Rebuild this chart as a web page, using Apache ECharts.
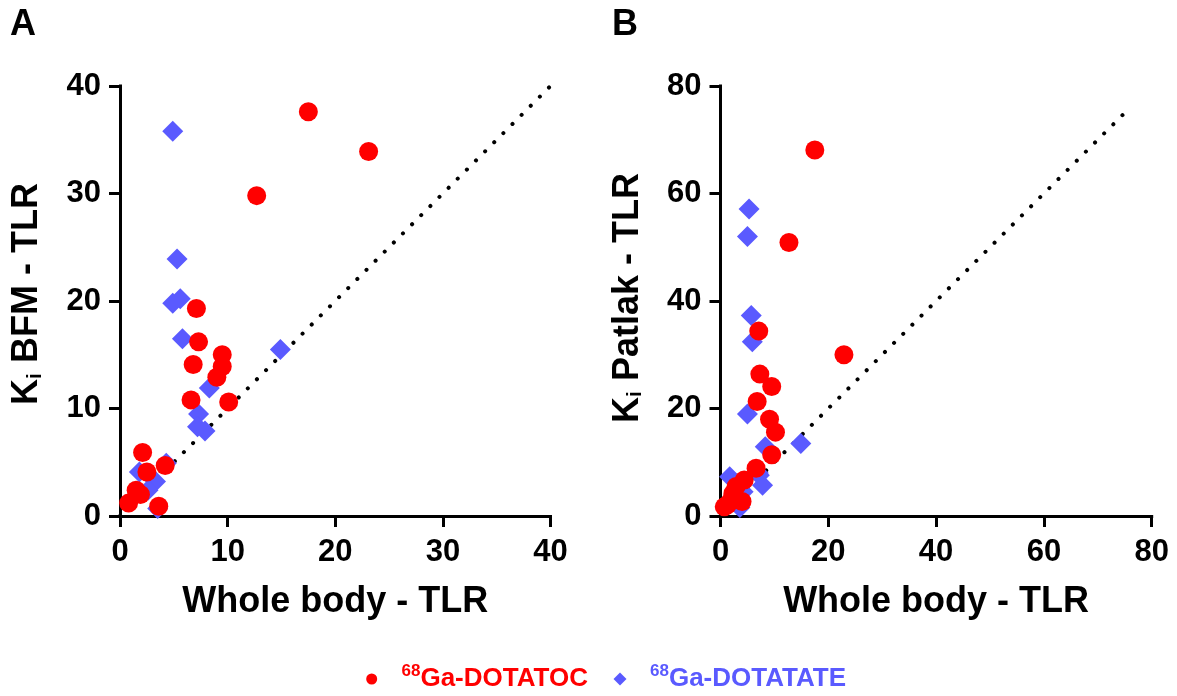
<!DOCTYPE html>
<html>
<head>
<meta charset="utf-8">
<script src="https://cdn.jsdelivr.net/npm/echarts@6/dist/echarts.min.js"></script>
<style>
  html, body { margin: 0; padding: 0; background: #ffffff; }
  #chart { width: 1177px; height: 696px; }
</style>
</head>
<body>
<div id="chart"></div>
<script>
// Tracer names (the leading "68" is set as a superscript in the legend)
const seriesNames = ['68Ga-DOTATOC', '68Ga-DOTATATE'];

// Panel A: whole body TLR (x) vs Ki BFM TLR (y)
const bfmDotatoc = [
  [17.5, 37.6], [23.1, 33.9], [12.7, 29.8], [7.1, 19.3], [7.3, 16.2],
  [9.5, 15.0], [9.5, 13.9], [6.8, 14.1], [9.0, 12.9], [6.6, 10.8],
  [10.1, 10.6], [2.1, 5.9], [4.2, 4.7], [2.5, 4.1], [1.5, 2.4],
  [1.9, 2.0], [0.8, 1.2], [3.6, 0.9]
];
const bfmDotatate = [
  [4.9, 35.8], [5.3, 23.9], [4.9, 19.8], [5.6, 20.2], [5.8, 16.5],
  [8.3, 11.9], [14.9, 15.5], [7.3, 9.5], [7.2, 8.3], [7.9, 7.9],
  [1.8, 4.1], [3.3, 3.2], [4.3, 4.9], [3.5, 0.7], [2.6, 2.4]
];

// Panel B: whole body TLR (x) vs Ki Patlak TLR (y)
const patlakDotatoc = [
  [17.5, 68.1], [22.9, 30.0], [12.7, 50.9], [7.1, 34.4], [7.3, 26.4],
  [9.5, 24.1], [6.8, 21.3], [9.1, 18.0], [10.2, 15.6], [9.5, 11.4],
  [6.6, 8.9], [4.4, 6.7], [2.9, 5.5], [2.3, 4.2], [4.0, 2.7],
  [1.3, 2.1], [0.7, 1.7], [1.9, 2.8]
];
const patlakDotatate = [
  [5.3, 57.1], [5.0, 52.0], [5.7, 37.3], [5.9, 32.4], [5.0, 19.0],
  [8.3, 12.9], [14.9, 13.5], [7.8, 5.7], [7.0, 8.0], [1.7, 7.3],
  [3.6, 1.6], [4.2, 4.5], [2.5, 2.8], [3.3, 4.6], [7.2, 7.6]
];

// Line of identity drawn in each panel
const identityA = [[0, 0], [40, 40]];
const identityB = [[0, 0], [75, 75]];

// Axis ranges and tick steps
const axisA = { max: 40, step: 10 };
const axisB = { max: 80, step: 20 };

const FONT = '"Liberation Sans", Arial, Helvetica, sans-serif';
const RED = '#FF0000';
const BLUE = '#5A5AFF';

function valueAxis(gridIndex, range, isX, name) {
  const ax = {
    type: 'value',
    gridIndex: gridIndex,
    min: 0,
    max: range.max,
    interval: range.step,
    axisLine: { show: true, onZero: false, lineStyle: { color: '#000', width: 3, cap: 'square' } },
    axisTick: { show: true, length: 11, lineStyle: { color: '#000', width: 3 } },
    splitLine: { show: false },
    axisLabel: {
      color: '#000', fontFamily: FONT, fontWeight: 'bold', fontSize: 31,
      margin: isX ? 21 : 19
    }
  };
  if (name) {
    ax.name = name;
    ax.nameLocation = 'middle';
    ax.nameGap = 68;
    ax.nameTextStyle = { color: '#000', fontFamily: FONT, fontWeight: 'bold', fontSize: 36 };
  }
  return ax;
}

function identitySeries(idx, data) {
  return {
    type: 'line', xAxisIndex: idx, yAxisIndex: idx, data: data,
    symbol: 'none', silent: true, z: 1,
    lineStyle: { color: '#000', width: 4, type: [0.1, 12.8], cap: 'round' }
  };
}

function scatterSeries(idx, nameIdx, data) {
  const isToc = nameIdx === 0;
  return {
    type: 'scatter', name: seriesNames[nameIdx],
    xAxisIndex: idx, yAxisIndex: idx, data: data,
    symbol: isToc ? 'circle' : 'diamond',
    symbolSize: isToc ? 19 : 21,
    itemStyle: { color: isToc ? RED : BLUE, opacity: 1 },
    emphasis: { disabled: true },
    z: isToc ? 3 : 2
  };
}

function yTitle(x, y, rest) {
  return {
    type: 'text', x: x, y: y, rotation: Math.PI / 2, silent: true,
    style: {
      text: '{a|K}{b|i}{a|' + rest + '}',
      align: 'center', verticalAlign: 'middle',
      fill: '#000',
      rich: {
        a: { fontFamily: FONT, fontWeight: 'bold', fontSize: 36, lineHeight: 36, fill: '#000' },
        b: { fontFamily: FONT, fontWeight: 'bold', fontSize: 21, lineHeight: 21, verticalAlign: 'bottom', fill: '#000' }
      }
    }
  };
}

function panelLetter(x, letter) {
  return {
    type: 'text', x: x, y: 25.5, silent: true,
    style: {
      text: letter, fill: '#000', fontFamily: FONT, fontWeight: 'bold', fontSize: 36,
      align: 'left', verticalAlign: 'middle'
    }
  };
}

// textLeft: where the legend label starts, measured from the page's left edge
function legendFor(nameIdx, left, icon, color, size, textLeft) {
  return {
    data: [{ name: seriesNames[nameIdx], icon: icon }],
    left: left, top: 663, padding: 0, itemGap: 0,
    itemWidth: size, itemHeight: size,
    selectedMode: false,
    formatter: function (n) { return '{s|' + n.slice(0, 2) + '}{m|' + n.slice(2) + '}'; },
    textStyle: {
      color: color, padding: [0, 0, 0, textLeft - left - size - 5],
      rich: {
        s: { fontFamily: FONT, fontWeight: 'bold', fontSize: 17, lineHeight: 15, verticalAlign: 'top', color: color },
        m: { fontFamily: FONT, fontWeight: 'bold', fontSize: 26, lineHeight: 32, color: color }
      }
    }
  };
}

const chart = echarts.init(document.getElementById('chart'), null, { renderer: 'canvas' });
chart.setOption({
  animation: false,
  backgroundColor: '#ffffff',
  grid: [
    { left: 120, top: 86, width: 430.5, height: 430 },
    { left: 720.5, top: 86, width: 431.2, height: 430 }
  ],
  xAxis: [
    valueAxis(0, axisA, true, 'Whole body - TLR'),
    valueAxis(1, axisB, true, 'Whole body - TLR')
  ],
  yAxis: [
    valueAxis(0, axisA, false),
    valueAxis(1, axisB, false)
  ],
  legend: [
    legendFor(0, 366.2, 'circle', RED, 11, 401.5),
    legendFor(1, 613.5, 'diamond', BLUE, 13, 650)
  ],
  graphic: [
    panelLetter(10, 'A'),
    panelLetter(612, 'B'),
    yTitle(27.5, 294, ' BFM - TLR'),
    yTitle(628, 298, ' Patlak - TLR')
  ],
  series: [
    identitySeries(0, identityA),
    scatterSeries(0, 1, bfmDotatate),
    scatterSeries(0, 0, bfmDotatoc),
    identitySeries(1, identityB),
    scatterSeries(1, 1, patlakDotatate),
    scatterSeries(1, 0, patlakDotatoc)
  ]
});
</script>
</body>
</html>
